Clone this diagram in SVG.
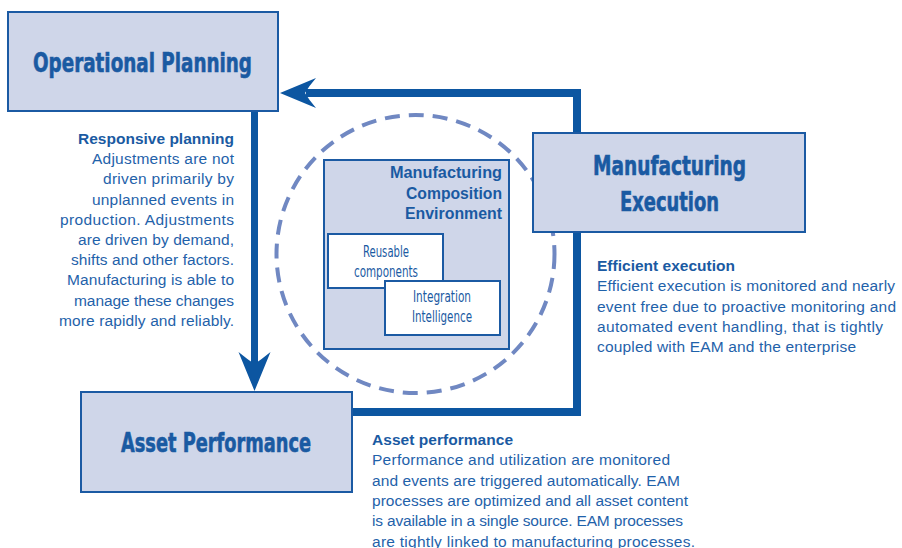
<svg xmlns="http://www.w3.org/2000/svg" width="902" height="548" viewBox="0 0 902 548">
<style>
.box{fill:#cfd6e9;stroke:#1b5aa3;stroke-width:2}
.wbox{fill:#ffffff;stroke:#1b5aa3;stroke-width:2}
.conn{fill:none;stroke:#0c56a1;stroke-width:8;stroke-linejoin:miter}
.head{fill:#0c56a1;stroke:none}
.ring{fill:none;stroke:#7088c2;stroke-width:4;stroke-dasharray:15 9}
.big{font-family:"Liberation Sans Narrow","DejaVu Sans Condensed","Liberation Sans",sans-serif;font-weight:bold;font-size:27px;fill:#1a5aa2;stroke:#1a5aa2;stroke-width:0.6}
.mid{font-family:"Liberation Sans",Arial,sans-serif;font-weight:bold;font-size:16px;fill:#1a5aa2}
.small{font-family:"Liberation Sans Narrow","DejaVu Sans Condensed","Liberation Sans",sans-serif;font-size:16px;fill:#1a5aa2}
.ttl{font-family:"Liberation Sans",Arial,sans-serif;font-weight:bold;font-size:15.5px;fill:#1a5aa2}
.body{font-family:"Liberation Sans",Arial,sans-serif;font-size:15.5px;fill:#1f62aa}
</style>

<g id="connectors">
  <path class="conn" d="M352,412 H577 V232"/>
  <path class="conn" d="M577,133 V93 H306"/>
  <path class="head" d="M280,93 L316,78 Q309,86 305,93 Q309,100 316,108 Z"/>
  <path class="conn" style="stroke-width:7" d="M254.5,111 V365"/>
  <path class="head" d="M254.5,391 L238.5,352 Q247,359 254.5,364 Q262,359 270.5,352 Z"/>
</g>

<g id="composition-ring">
  <circle class="ring" cx="415.5" cy="254" r="139"/>
</g>

<g id="operational-planning">
  <rect class="box" x="8" y="12" width="270" height="99"/>
  <text class="big" x="33" y="72" textLength="219" lengthAdjust="spacingAndGlyphs">Operational Planning</text>
</g>

<g id="manufacturing-execution">
  <rect class="box" x="533" y="133" width="272" height="99"/>
  <text class="big" x="593" y="175" textLength="153" lengthAdjust="spacingAndGlyphs">Manufacturing</text>
  <text class="big" x="620" y="211" textLength="99" lengthAdjust="spacingAndGlyphs">Execution</text>
</g>

<g id="asset-performance">
  <rect class="box" x="81" y="392" width="271" height="100"/>
  <text class="big" x="121" y="452" textLength="190" lengthAdjust="spacingAndGlyphs">Asset Performance</text>
</g>

<g id="manufacturing-composition-environment">
  <rect class="box" x="324" y="160" width="185" height="189"/>
  <text class="mid" text-anchor="end" x="502" y="178" textLength="112" lengthAdjust="spacingAndGlyphs">Manufacturing</text>
  <text class="mid" text-anchor="end" x="502" y="199" textLength="96" lengthAdjust="spacingAndGlyphs">Composition</text>
  <text class="mid" text-anchor="end" x="502" y="219" textLength="97" lengthAdjust="spacingAndGlyphs">Environment</text>
</g>

<g id="reusable-components">
  <rect class="wbox" x="328" y="234" width="115" height="54"/>
  <text class="small" x="363" y="257" textLength="46" lengthAdjust="spacingAndGlyphs">Reusable</text>
  <text class="small" x="354" y="277" textLength="64" lengthAdjust="spacingAndGlyphs">components</text>
</g>

<g id="integration-intelligence">
  <rect class="wbox" x="385" y="281" width="115" height="54"/>
  <text class="small" x="413" y="302" textLength="58" lengthAdjust="spacingAndGlyphs">Integration</text>
  <text class="small" x="412" y="322" textLength="60" lengthAdjust="spacingAndGlyphs">Intelligence</text>
</g>

<g id="responsive-planning-text" text-anchor="end">
  <text class="ttl" x="234" y="144" textLength="156">Responsive planning</text>
  <text class="body" x="234" y="164.2" textLength="142">Adjustments are not</text>
  <text class="body" x="234" y="184.4" textLength="131">driven primarily by</text>
  <text class="body" x="234" y="204.6" textLength="142">unplanned events in</text>
  <text class="body" x="234" y="224.8" textLength="174">production. Adjustments</text>
  <text class="body" x="234" y="245" textLength="156">are driven by demand,</text>
  <text class="body" x="234" y="265.2" textLength="163">shifts and other factors.</text>
  <text class="body" x="234" y="285.4" textLength="167">Manufacturing is able to</text>
  <text class="body" x="234" y="305.6" textLength="160">manage these changes</text>
  <text class="body" x="234" y="325.8" textLength="175">more rapidly and reliably.</text>
</g>

<g id="efficient-execution-text">
  <text class="ttl" x="597" y="271" textLength="138">Efficient execution</text>
  <text class="body" x="597" y="291.2" textLength="298">Efficient execution is monitored and nearly</text>
  <text class="body" x="597" y="311.5" textLength="299">event free due to proactive monitoring and</text>
  <text class="body" x="597" y="331.7" textLength="286">automated event handling, that is tightly</text>
  <text class="body" x="597" y="352" textLength="259">coupled with EAM and the enterprise</text>
</g>

<g id="asset-performance-text">
  <text class="ttl" x="372" y="445" textLength="141">Asset performance</text>
  <text class="body" x="372" y="465.4" textLength="298">Performance and utilization are monitored</text>
  <text class="body" x="372" y="485.7" textLength="308">and events are triggered automatically. EAM</text>
  <text class="body" x="372" y="506" textLength="316">processes are optimized and all asset content</text>
  <text class="body" x="372" y="526.3" textLength="311">is available in a single source. EAM processes</text>
  <text class="body" x="372" y="546.6" textLength="323">are tightly linked to manufacturing processes.</text>
</g>
</svg>
